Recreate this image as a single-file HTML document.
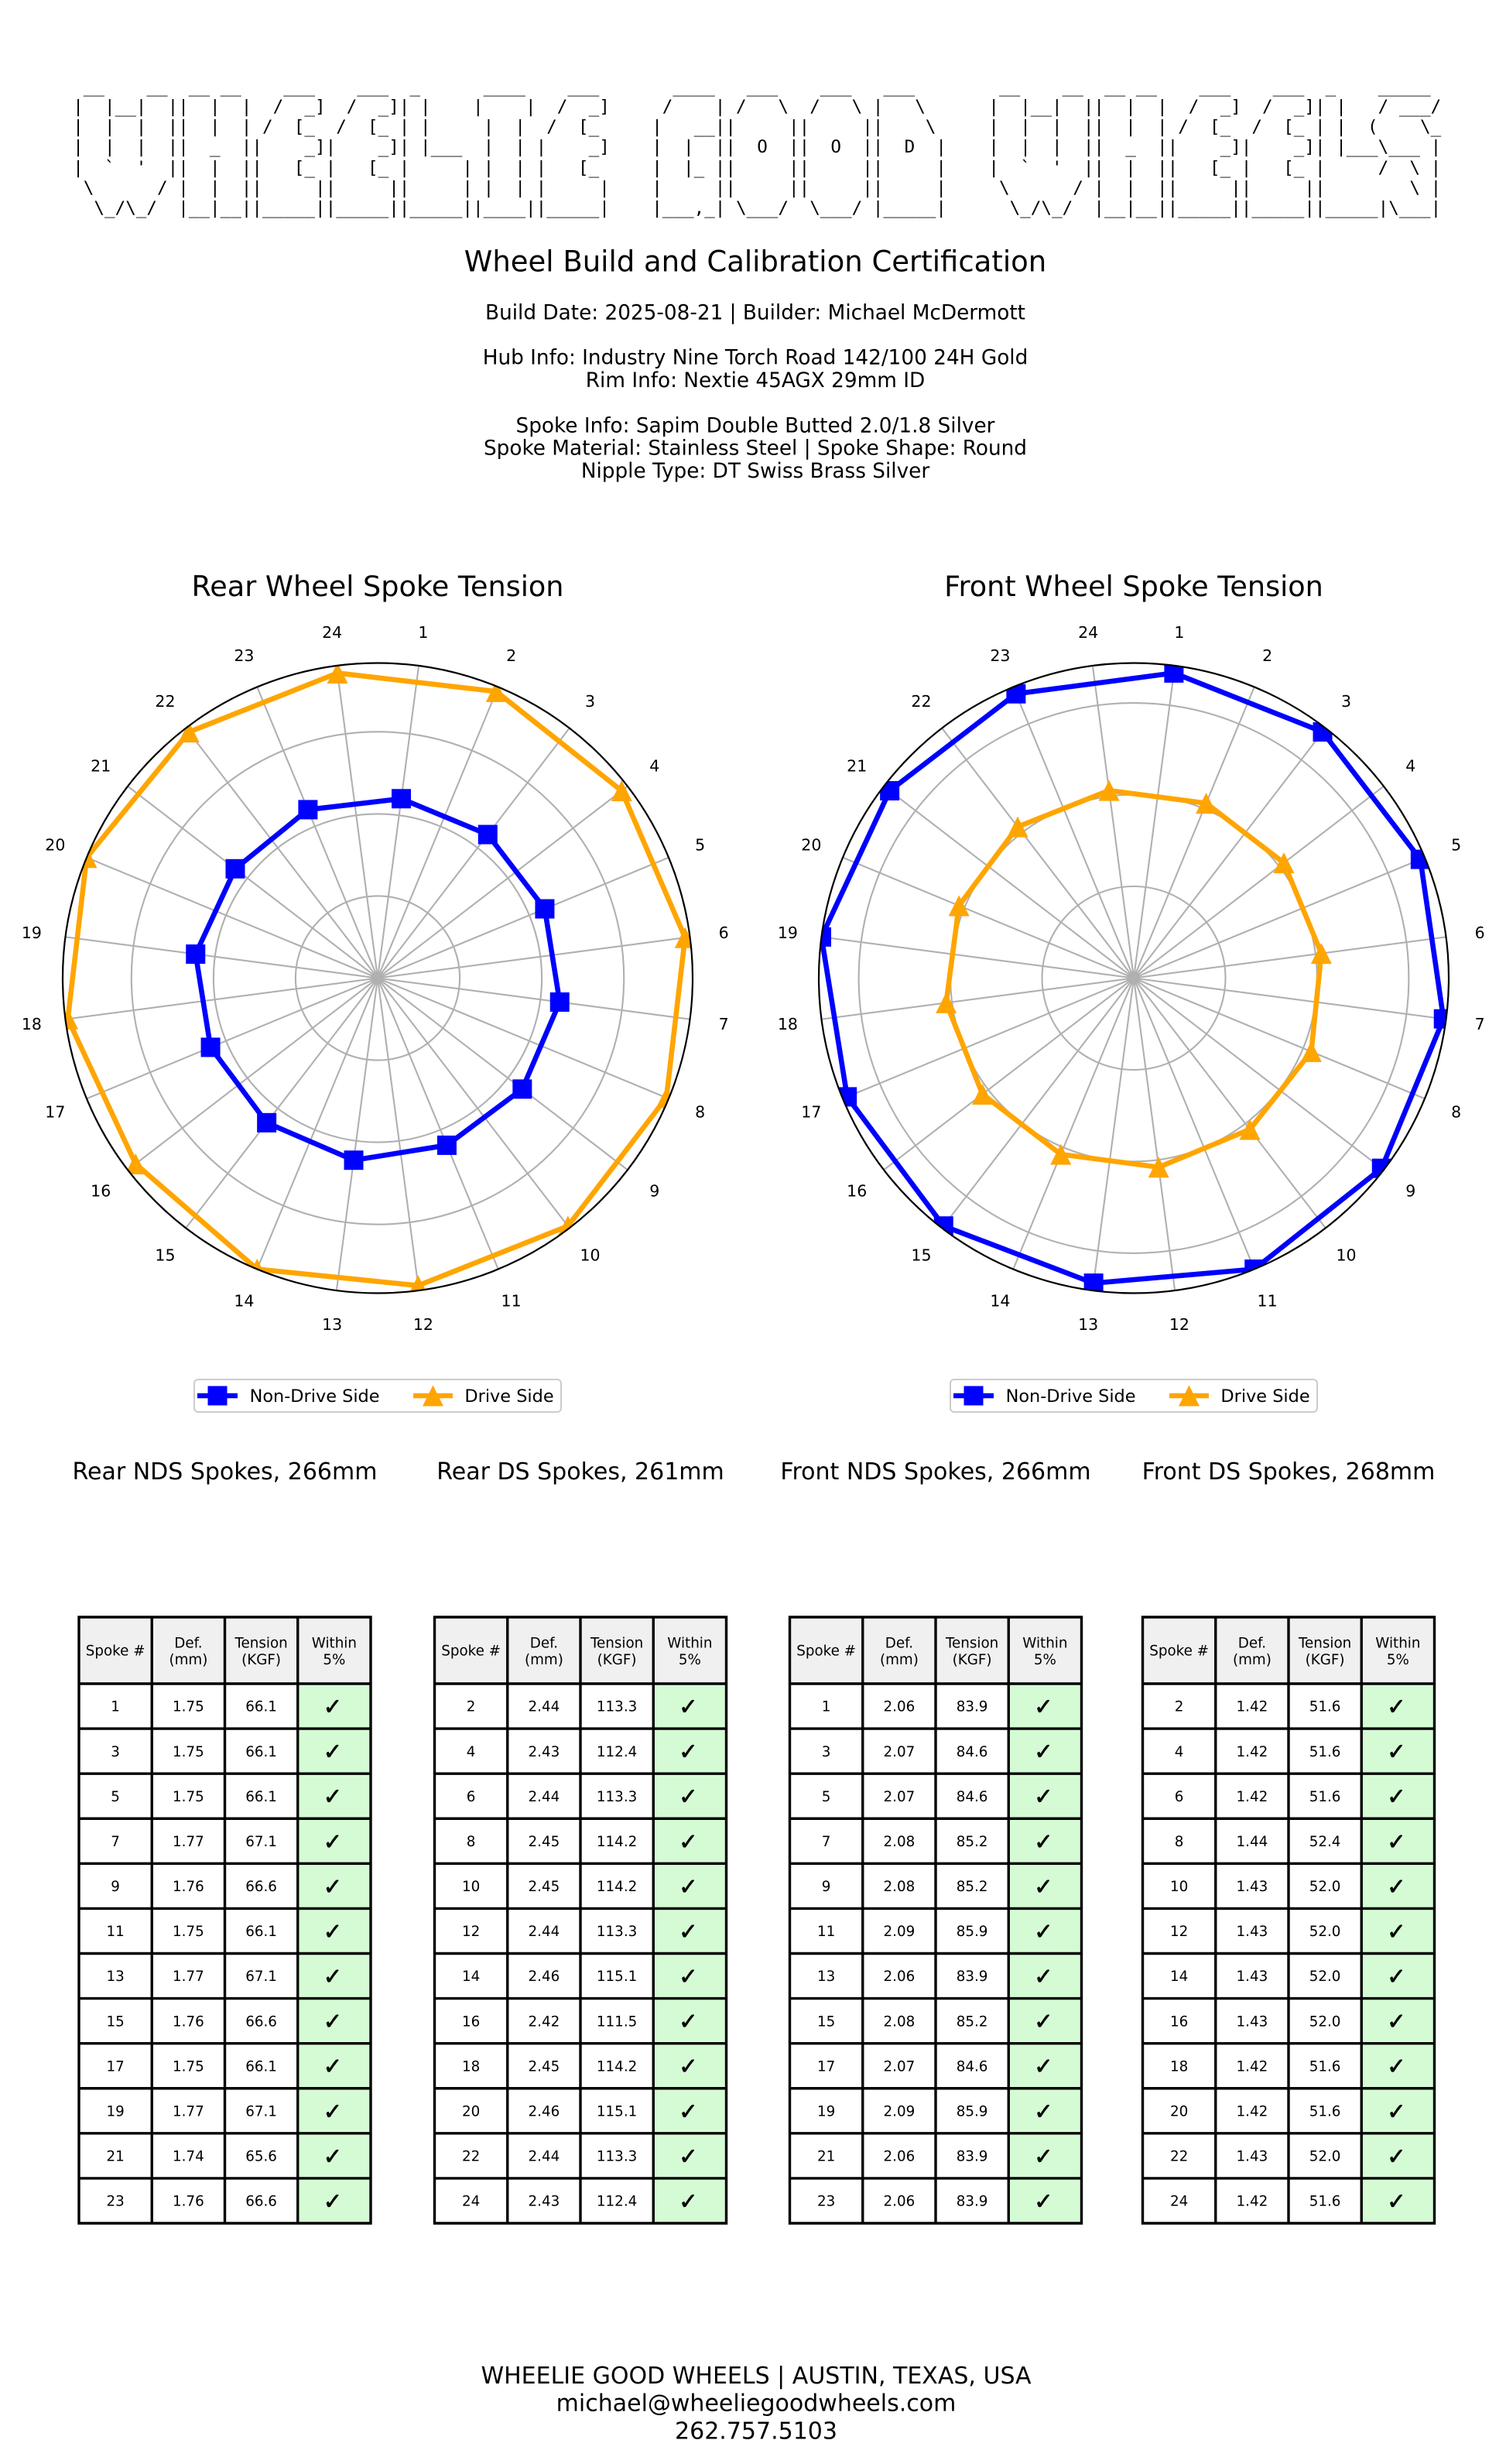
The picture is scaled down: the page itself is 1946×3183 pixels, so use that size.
<!DOCTYPE html>
<html><head><meta charset="utf-8"><style>
html,body{margin:0;padding:0;background:#fff;}
body{width:1946px;height:3183px;position:relative;overflow:hidden;}
svg{position:absolute;left:0;top:0;}
.a{position:absolute;top:98.5px;margin:0;font-family:"DejaVu Sans Mono","Liberation Mono",monospace;font-size:22.6px;line-height:26.3px;color:#000;white-space:pre;}
</style></head><body>
<svg width="1946" height="3183" viewBox="0 0 1946 3183" font-family="'DejaVu Sans','Liberation Sans',sans-serif">
<defs>
<path id="spk" d="M53.12 -403.52L-53.12 403.52M155.75 -376.02L-155.75 376.02M247.77 -322.9L-247.77 322.9M322.9 -247.77L-322.9 247.77M376.02 -155.75L-376.02 155.75M403.52 -53.12L-403.52 53.12M403.52 53.12L-403.52 -53.12M376.02 155.75L-376.02 -155.75M322.9 247.77L-322.9 -247.77M247.77 322.9L-247.77 -322.9M155.75 376.02L-155.75 -376.02M53.12 403.52L-53.12 -403.52"/>
<rect id="sq" x="-12.5" y="-12.5" width="25" height="25" fill="#0000ff"/>
<polygon id="tri" points="0,-13.5 -13.5,13.5 13.5,13.5" fill="#ffa500"/>
<clipPath id="cr"><circle cx="488" cy="1263.5" r="407"/></clipPath>
<clipPath id="cf"><circle cx="1465" cy="1263.5" r="407"/></clipPath>
<g id="tf">
<rect x="0" y="2089" width="377" height="86" fill="#f0f0f0"/>
<rect x="0" y="2175" width="282.75" height="697" fill="#ffffff"/>
<rect x="282.75" y="2175" width="94.25" height="697" fill="#d5fbd5"/>
<path fill="none" stroke="#000" stroke-width="3.4" stroke-linecap="square" d="M0 2089H377M0 2175H377M0 2233.08H377M0 2291.17H377M0 2349.25H377M0 2407.33H377M0 2465.42H377M0 2523.5H377M0 2581.58H377M0 2639.67H377M0 2697.75H377M0 2755.83H377M0 2813.92H377M0 2872H377M0 2089V2872M94.25 2089V2872M188.5 2089V2872M282.75 2089V2872M377 2089V2872"/>
</g>
</defs>

<!-- Header text -->
<g fill="#000" text-anchor="middle">
<text x="976" y="350.5" font-size="37">Wheel Build and Calibration Certification</text>
<g font-size="26.3">
<text x="976" y="412.5">Build Date: 2025-08-21 | Builder: Michael McDermott</text>
<text x="976" y="470.5">Hub Info: Industry Nine Torch Road 142/100 24H Gold</text>
<text x="976" y="500">Rim Info: Nextie 45AGX 29mm ID</text>
<text x="976" y="558.5">Spoke Info: Sapim Double Butted 2.0/1.8 Silver</text>
<text x="976" y="587.5">Spoke Material: Stainless Steel | Spoke Shape: Round</text>
<text x="976" y="617">Nipple Type: DT Swiss Brass Silver</text>
</g>
<text x="488" y="770" font-size="36.6">Rear Wheel Spoke Tension</text>
<text x="1465" y="770" font-size="36.6">Front Wheel Spoke Tension</text>
</g>

<!-- Rear chart -->
<g fill="none" stroke="#b0b0b0" stroke-width="2.1">
<circle cx="488" cy="1263.5" r="106.1"/>
<circle cx="488" cy="1263.5" r="212.1"/>
<circle cx="488" cy="1263.5" r="318.2"/>
<use href="#spk" x="488" y="1263.5"/>
</g>
<g clip-path="url(#cr)">
<path fill="none" stroke="#0000ff" stroke-width="6.6" stroke-linejoin="round" d="M518.51,1031.77 L630.29,1078.07 L703.94,1174.06 L723.24,1294.47 L674.83,1406.86 L577.44,1479.44 L457.03,1498.74 L344.64,1450.33 L272.06,1352.94 L252.76,1232.53 L303.97,1122.29 L397.88,1045.93 Z"/>
<use href="#sq" x="518.51" y="1031.77"/><use href="#sq" x="630.29" y="1078.07"/><use href="#sq" x="703.94" y="1174.06"/><use href="#sq" x="723.24" y="1294.47"/><use href="#sq" x="674.83" y="1406.86"/><use href="#sq" x="577.44" y="1479.44"/><use href="#sq" x="457.03" y="1498.74"/><use href="#sq" x="344.64" y="1450.33"/><use href="#sq" x="272.06" y="1352.94"/><use href="#sq" x="252.76" y="1232.53"/><use href="#sq" x="303.97" y="1122.29"/><use href="#sq" x="397.88" y="1045.93"/>
<path fill="none" stroke="#ffa500" stroke-width="6.6" stroke-linejoin="round" d="M641.32,893.36 L803.32,1021.55 L885.21,1211.21 L861.08,1418.03 L733.83,1583.87 L540.29,1660.71 L332.25,1639.52 L175.21,1503.52 L87.63,1316.21 L111.98,1107.75 L244.11,945.65 L436.12,869.45 Z"/>
<use href="#tri" x="641.32" y="893.36"/><use href="#tri" x="803.32" y="1021.55"/><use href="#tri" x="885.21" y="1211.21"/><use href="#tri" x="861.08" y="1418.03"/><use href="#tri" x="733.83" y="1583.87"/><use href="#tri" x="540.29" y="1660.71"/><use href="#tri" x="332.25" y="1639.52"/><use href="#tri" x="175.21" y="1503.52"/><use href="#tri" x="87.63" y="1316.21"/><use href="#tri" x="111.98" y="1107.75"/><use href="#tri" x="244.11" y="945.65"/><use href="#tri" x="436.12" y="869.45"/>
</g>
<circle cx="488" cy="1263.5" r="407" fill="none" stroke="#000" stroke-width="2.2"/>
<g font-size="20.5" text-anchor="middle" fill="#000" transform="translate(488 1263.5)">
<text x="58.87" y="-439.74">1</text><text x="172.59" y="-409.27">2</text><text x="274.55" y="-350.4">3</text><text x="357.8" y="-267.15">4</text><text x="416.67" y="-165.19">5</text><text x="447.14" y="-51.47">6</text><text x="447.14" y="66.27">7</text><text x="416.67" y="179.99">8</text><text x="357.8" y="281.95">9</text><text x="274.55" y="365.2">10</text><text x="172.59" y="424.07">11</text><text x="58.87" y="454.54">12</text><text x="-58.87" y="454.54">13</text><text x="-172.59" y="424.07">14</text><text x="-274.55" y="365.2">15</text><text x="-357.8" y="281.95">16</text><text x="-416.67" y="179.99">17</text><text x="-447.14" y="66.27">18</text><text x="-447.14" y="-51.47">19</text><text x="-416.67" y="-165.19">20</text><text x="-357.8" y="-267.15">21</text><text x="-274.55" y="-350.4">22</text><text x="-172.59" y="-409.27">23</text><text x="-58.87" y="-439.74">24</text>
</g>
<!-- Rear legend -->
<rect x="251" y="1782" width="474" height="42" rx="5" fill="#fff" stroke="#cccccc" stroke-width="2"/>
<line x1="255" y1="1803" x2="307" y2="1803" stroke="#0000ff" stroke-width="6.6"/>
<use href="#sq" x="281" y="1803"/>
<line x1="534" y1="1803" x2="585" y2="1803" stroke="#ffa500" stroke-width="6.6"/>
<use href="#tri" x="559.5" y="1803"/>
<g font-size="22.4" fill="#000">
<text x="322.6" y="1811">Non-Drive Side</text>
<text x="600.4" y="1811">Drive Side</text>
</g>

<!-- Front chart -->
<g fill="none" stroke="#b0b0b0" stroke-width="2.1">
<circle cx="1465" cy="1263.5" r="118.5"/>
<circle cx="1465" cy="1263.5" r="236.9"/>
<circle cx="1465" cy="1263.5" r="355.4"/>
<use href="#spk" x="1465" y="1263.5"/>
</g>
<g clip-path="url(#cf)">
<path fill="none" stroke="#0000ff" stroke-width="6.6" stroke-linejoin="round" d="M1516.89,869.38 L1709.02,945.49 L1835.33,1110.11 L1865.23,1316.19 L1785.26,1509.24 L1620.75,1639.52 L1413.11,1657.62 L1219.26,1583.76 L1094.67,1416.89 L1061.48,1210.38 L1149.63,1021.51 L1312.88,896.24 Z"/>
<use href="#sq" x="1516.89" y="869.38"/><use href="#sq" x="1709.02" y="945.49"/><use href="#sq" x="1835.33" y="1110.11"/><use href="#sq" x="1865.23" y="1316.19"/><use href="#sq" x="1785.26" y="1509.24"/><use href="#sq" x="1620.75" y="1639.52"/><use href="#sq" x="1413.11" y="1657.62"/><use href="#sq" x="1219.26" y="1583.76"/><use href="#sq" x="1094.67" y="1416.89"/><use href="#sq" x="1061.48" y="1210.38"/><use href="#sq" x="1149.63" y="1021.51"/><use href="#sq" x="1312.88" y="896.24"/>
<path fill="none" stroke="#ffa500" stroke-width="6.6" stroke-linejoin="round" d="M1558.56,1037.63 L1658.96,1114.67 L1707.39,1231.59 L1694.37,1358.51 L1614.99,1458.97 L1497.16,1507.77 L1370.71,1491.13 L1269.53,1413.49 L1222.61,1295.41 L1239.13,1169.94 L1315.01,1068.03 L1433.09,1021.11 Z"/>
<use href="#tri" x="1558.56" y="1037.63"/><use href="#tri" x="1658.96" y="1114.67"/><use href="#tri" x="1707.39" y="1231.59"/><use href="#tri" x="1694.37" y="1358.51"/><use href="#tri" x="1614.99" y="1458.97"/><use href="#tri" x="1497.16" y="1507.77"/><use href="#tri" x="1370.71" y="1491.13"/><use href="#tri" x="1269.53" y="1413.49"/><use href="#tri" x="1222.61" y="1295.41"/><use href="#tri" x="1239.13" y="1169.94"/><use href="#tri" x="1315.01" y="1068.03"/><use href="#tri" x="1433.09" y="1021.11"/>
</g>
<circle cx="1465" cy="1263.5" r="407" fill="none" stroke="#000" stroke-width="2.2"/>
<g font-size="20.5" text-anchor="middle" fill="#000" transform="translate(1465 1263.5)">
<text x="58.87" y="-439.74">1</text><text x="172.59" y="-409.27">2</text><text x="274.55" y="-350.4">3</text><text x="357.8" y="-267.15">4</text><text x="416.67" y="-165.19">5</text><text x="447.14" y="-51.47">6</text><text x="447.14" y="66.27">7</text><text x="416.67" y="179.99">8</text><text x="357.8" y="281.95">9</text><text x="274.55" y="365.2">10</text><text x="172.59" y="424.07">11</text><text x="58.87" y="454.54">12</text><text x="-58.87" y="454.54">13</text><text x="-172.59" y="424.07">14</text><text x="-274.55" y="365.2">15</text><text x="-357.8" y="281.95">16</text><text x="-416.67" y="179.99">17</text><text x="-447.14" y="66.27">18</text><text x="-447.14" y="-51.47">19</text><text x="-416.67" y="-165.19">20</text><text x="-357.8" y="-267.15">21</text><text x="-274.55" y="-350.4">22</text><text x="-172.59" y="-409.27">23</text><text x="-58.87" y="-439.74">24</text>
</g>
<!-- Front legend -->
<rect x="1228" y="1782" width="474" height="42" rx="5" fill="#fff" stroke="#cccccc" stroke-width="2"/>
<line x1="1232" y1="1803" x2="1284" y2="1803" stroke="#0000ff" stroke-width="6.6"/>
<use href="#sq" x="1258" y="1803"/>
<line x1="1511" y1="1803" x2="1562" y2="1803" stroke="#ffa500" stroke-width="6.6"/>
<use href="#tri" x="1536.5" y="1803"/>
<g font-size="22.4" fill="#000">
<text x="1299.6" y="1811">Non-Drive Side</text>
<text x="1577.4" y="1811">Drive Side</text>
</g>

<!-- Section headings -->
<g font-size="30" text-anchor="middle" fill="#000">
<text x="290.5" y="1911">Rear NDS Spokes, 266mm</text>
<text x="750" y="1911">Rear DS Spokes, 261mm</text>
<text x="1209" y="1911">Front NDS Spokes, 266mm</text>
<text x="1665" y="1911">Front DS Spokes, 268mm</text>
</g>

<!-- Tables -->
<use href="#tf" x="102"/>
<use href="#tf" x="561.5"/>
<use href="#tf" x="1020.5"/>
<use href="#tf" x="1476.5"/>

<g font-size="18.3" text-anchor="middle" fill="#000">
<!-- T1 -->
<g transform="translate(102 0)">
<text x="47.1" y="2138.7">Spoke #</text><text x="141.4" y="2128.4">Def.</text><text x="141.4" y="2150">(mm)</text><text x="235.6" y="2128.4">Tension</text><text x="235.6" y="2150">(KGF)</text><text x="329.9" y="2128.4">Within</text><text x="329.9" y="2150">5%</text>
<text x="47.1" y="2210.7">1</text><text x="141.4" y="2210.7">1.75</text><text x="235.6" y="2210.7">66.1</text>
<text x="47.1" y="2268.8">3</text><text x="141.4" y="2268.8">1.75</text><text x="235.6" y="2268.8">66.1</text>
<text x="47.1" y="2326.9">5</text><text x="141.4" y="2326.9">1.75</text><text x="235.6" y="2326.9">66.1</text>
<text x="47.1" y="2385">7</text><text x="141.4" y="2385">1.77</text><text x="235.6" y="2385">67.1</text>
<text x="47.1" y="2443.1">9</text><text x="141.4" y="2443.1">1.76</text><text x="235.6" y="2443.1">66.6</text>
<text x="47.1" y="2501.2">11</text><text x="141.4" y="2501.2">1.75</text><text x="235.6" y="2501.2">66.1</text>
<text x="47.1" y="2559.2">13</text><text x="141.4" y="2559.2">1.77</text><text x="235.6" y="2559.2">67.1</text>
<text x="47.1" y="2617.3">15</text><text x="141.4" y="2617.3">1.76</text><text x="235.6" y="2617.3">66.6</text>
<text x="47.1" y="2675.4">17</text><text x="141.4" y="2675.4">1.75</text><text x="235.6" y="2675.4">66.1</text>
<text x="47.1" y="2733.5">19</text><text x="141.4" y="2733.5">1.77</text><text x="235.6" y="2733.5">67.1</text>
<text x="47.1" y="2791.6">21</text><text x="141.4" y="2791.6">1.74</text><text x="235.6" y="2791.6">65.6</text>
<text x="47.1" y="2849.7">23</text><text x="141.4" y="2849.7">1.76</text><text x="235.6" y="2849.7">66.6</text>
</g>
<!-- T2 -->
<g transform="translate(561.5 0)">
<text x="47.1" y="2138.7">Spoke #</text><text x="141.4" y="2128.4">Def.</text><text x="141.4" y="2150">(mm)</text><text x="235.6" y="2128.4">Tension</text><text x="235.6" y="2150">(KGF)</text><text x="329.9" y="2128.4">Within</text><text x="329.9" y="2150">5%</text>
<text x="47.1" y="2210.7">2</text><text x="141.4" y="2210.7">2.44</text><text x="235.6" y="2210.7">113.3</text>
<text x="47.1" y="2268.8">4</text><text x="141.4" y="2268.8">2.43</text><text x="235.6" y="2268.8">112.4</text>
<text x="47.1" y="2326.9">6</text><text x="141.4" y="2326.9">2.44</text><text x="235.6" y="2326.9">113.3</text>
<text x="47.1" y="2385">8</text><text x="141.4" y="2385">2.45</text><text x="235.6" y="2385">114.2</text>
<text x="47.1" y="2443.1">10</text><text x="141.4" y="2443.1">2.45</text><text x="235.6" y="2443.1">114.2</text>
<text x="47.1" y="2501.2">12</text><text x="141.4" y="2501.2">2.44</text><text x="235.6" y="2501.2">113.3</text>
<text x="47.1" y="2559.2">14</text><text x="141.4" y="2559.2">2.46</text><text x="235.6" y="2559.2">115.1</text>
<text x="47.1" y="2617.3">16</text><text x="141.4" y="2617.3">2.42</text><text x="235.6" y="2617.3">111.5</text>
<text x="47.1" y="2675.4">18</text><text x="141.4" y="2675.4">2.45</text><text x="235.6" y="2675.4">114.2</text>
<text x="47.1" y="2733.5">20</text><text x="141.4" y="2733.5">2.46</text><text x="235.6" y="2733.5">115.1</text>
<text x="47.1" y="2791.6">22</text><text x="141.4" y="2791.6">2.44</text><text x="235.6" y="2791.6">113.3</text>
<text x="47.1" y="2849.7">24</text><text x="141.4" y="2849.7">2.43</text><text x="235.6" y="2849.7">112.4</text>
</g>
<!-- T3 -->
<g transform="translate(1020.5 0)">
<text x="47.1" y="2138.7">Spoke #</text><text x="141.4" y="2128.4">Def.</text><text x="141.4" y="2150">(mm)</text><text x="235.6" y="2128.4">Tension</text><text x="235.6" y="2150">(KGF)</text><text x="329.9" y="2128.4">Within</text><text x="329.9" y="2150">5%</text>
<text x="47.1" y="2210.7">1</text><text x="141.4" y="2210.7">2.06</text><text x="235.6" y="2210.7">83.9</text>
<text x="47.1" y="2268.8">3</text><text x="141.4" y="2268.8">2.07</text><text x="235.6" y="2268.8">84.6</text>
<text x="47.1" y="2326.9">5</text><text x="141.4" y="2326.9">2.07</text><text x="235.6" y="2326.9">84.6</text>
<text x="47.1" y="2385">7</text><text x="141.4" y="2385">2.08</text><text x="235.6" y="2385">85.2</text>
<text x="47.1" y="2443.1">9</text><text x="141.4" y="2443.1">2.08</text><text x="235.6" y="2443.1">85.2</text>
<text x="47.1" y="2501.2">11</text><text x="141.4" y="2501.2">2.09</text><text x="235.6" y="2501.2">85.9</text>
<text x="47.1" y="2559.2">13</text><text x="141.4" y="2559.2">2.06</text><text x="235.6" y="2559.2">83.9</text>
<text x="47.1" y="2617.3">15</text><text x="141.4" y="2617.3">2.08</text><text x="235.6" y="2617.3">85.2</text>
<text x="47.1" y="2675.4">17</text><text x="141.4" y="2675.4">2.07</text><text x="235.6" y="2675.4">84.6</text>
<text x="47.1" y="2733.5">19</text><text x="141.4" y="2733.5">2.09</text><text x="235.6" y="2733.5">85.9</text>
<text x="47.1" y="2791.6">21</text><text x="141.4" y="2791.6">2.06</text><text x="235.6" y="2791.6">83.9</text>
<text x="47.1" y="2849.7">23</text><text x="141.4" y="2849.7">2.06</text><text x="235.6" y="2849.7">83.9</text>
</g>
<!-- T4 -->
<g transform="translate(1476.5 0)">
<text x="47.1" y="2138.7">Spoke #</text><text x="141.4" y="2128.4">Def.</text><text x="141.4" y="2150">(mm)</text><text x="235.6" y="2128.4">Tension</text><text x="235.6" y="2150">(KGF)</text><text x="329.9" y="2128.4">Within</text><text x="329.9" y="2150">5%</text>
<text x="47.1" y="2210.7">2</text><text x="141.4" y="2210.7">1.42</text><text x="235.6" y="2210.7">51.6</text>
<text x="47.1" y="2268.8">4</text><text x="141.4" y="2268.8">1.42</text><text x="235.6" y="2268.8">51.6</text>
<text x="47.1" y="2326.9">6</text><text x="141.4" y="2326.9">1.42</text><text x="235.6" y="2326.9">51.6</text>
<text x="47.1" y="2385">8</text><text x="141.4" y="2385">1.44</text><text x="235.6" y="2385">52.4</text>
<text x="47.1" y="2443.1">10</text><text x="141.4" y="2443.1">1.43</text><text x="235.6" y="2443.1">52.0</text>
<text x="47.1" y="2501.2">12</text><text x="141.4" y="2501.2">1.43</text><text x="235.6" y="2501.2">52.0</text>
<text x="47.1" y="2559.2">14</text><text x="141.4" y="2559.2">1.43</text><text x="235.6" y="2559.2">52.0</text>
<text x="47.1" y="2617.3">16</text><text x="141.4" y="2617.3">1.43</text><text x="235.6" y="2617.3">52.0</text>
<text x="47.1" y="2675.4">18</text><text x="141.4" y="2675.4">1.42</text><text x="235.6" y="2675.4">51.6</text>
<text x="47.1" y="2733.5">20</text><text x="141.4" y="2733.5">1.42</text><text x="235.6" y="2733.5">51.6</text>
<text x="47.1" y="2791.6">22</text><text x="141.4" y="2791.6">1.43</text><text x="235.6" y="2791.6">52.0</text>
<text x="47.1" y="2849.7">24</text><text x="141.4" y="2849.7">1.42</text><text x="235.6" y="2849.7">51.6</text>
</g>
</g>

<!-- Check marks -->
<g font-family="'DejaVu Sans',sans-serif" font-size="29" font-weight="bold" text-anchor="middle" fill="#000" stroke="#000" stroke-width="0.8">
<g transform="translate(100 0)"><text x="329.9" y="2214.5">✓</text><text x="329.9" y="2272.6">✓</text><text x="329.9" y="2330.7">✓</text><text x="329.9" y="2388.8">✓</text><text x="329.9" y="2446.9">✓</text><text x="329.9" y="2505">✓</text><text x="329.9" y="2563">✓</text><text x="329.9" y="2621.1">✓</text><text x="329.9" y="2679.2">✓</text><text x="329.9" y="2737.3">✓</text><text x="329.9" y="2795.4">✓</text><text x="329.9" y="2853.5">✓</text></g>
<g transform="translate(559.5 0)"><text x="329.9" y="2214.5">✓</text><text x="329.9" y="2272.6">✓</text><text x="329.9" y="2330.7">✓</text><text x="329.9" y="2388.8">✓</text><text x="329.9" y="2446.9">✓</text><text x="329.9" y="2505">✓</text><text x="329.9" y="2563">✓</text><text x="329.9" y="2621.1">✓</text><text x="329.9" y="2679.2">✓</text><text x="329.9" y="2737.3">✓</text><text x="329.9" y="2795.4">✓</text><text x="329.9" y="2853.5">✓</text></g>
<g transform="translate(1018.5 0)"><text x="329.9" y="2214.5">✓</text><text x="329.9" y="2272.6">✓</text><text x="329.9" y="2330.7">✓</text><text x="329.9" y="2388.8">✓</text><text x="329.9" y="2446.9">✓</text><text x="329.9" y="2505">✓</text><text x="329.9" y="2563">✓</text><text x="329.9" y="2621.1">✓</text><text x="329.9" y="2679.2">✓</text><text x="329.9" y="2737.3">✓</text><text x="329.9" y="2795.4">✓</text><text x="329.9" y="2853.5">✓</text></g>
<g transform="translate(1474.5 0)"><text x="329.9" y="2214.5">✓</text><text x="329.9" y="2272.6">✓</text><text x="329.9" y="2330.7">✓</text><text x="329.9" y="2388.8">✓</text><text x="329.9" y="2446.9">✓</text><text x="329.9" y="2505">✓</text><text x="329.9" y="2563">✓</text><text x="329.9" y="2621.1">✓</text><text x="329.9" y="2679.2">✓</text><text x="329.9" y="2737.3">✓</text><text x="329.9" y="2795.4">✓</text><text x="329.9" y="2853.5">✓</text></g>
</g>

<!-- Footer -->
<g font-size="30" text-anchor="middle" fill="#000">
<text x="977" y="3079">WHEELIE GOOD WHEELS | AUSTIN, TEXAS, USA</text>
<text x="977" y="3114.7">michael@wheeliegoodwheels.com</text>
<text x="977" y="3150.4">262.757.5103</text>
</g>
</svg>

<!-- ASCII art header (crawford style), one block per glyph -->
<pre class="a" style="left:94.2px">
 __    __
|  |__|  |
|  |  |  |
|  |  |  |
|  `  '  |
 \      /
  \_/\_/</pre>
<pre class="a" style="left:230.2px">
 __ __
|  |  |
|  |  |
|  _  |
|  |  |
|  |  |
|__|__|</pre>
<pre class="a" style="left:325.4px">
   ___
  /  _]
 /  [_
|    _]
|   [_
|     |
|_____|</pre>
<pre class="a" style="left:420.6px">
   ___
  /  _]
 /  [_
|    _]
|   [_
|     |
|_____|</pre>
<pre class="a" style="left:515.8px">
 _
| |
| |
| |___
|     |
|     |
|_____|</pre>
<pre class="a" style="left:611px">
 ____
|    |
 |  |
 |  |
 |  |
 |  |
|____|</pre>
<pre class="a" style="left:692.6px">
   ___
  /  _]
 /  [_
|    _]
|   [_
|     |
|_____|</pre>
<pre class="a" style="left:842.2px">
  ____
 /    |
|   __|
|  |  |
|  |_ |
|     |
|___,_|</pre>
<pre class="a" style="left:937.4px">
  ___
 /   \
|     |
|  O  |
|     |
|     |
 \___/</pre>
<pre class="a" style="left:1032.6px">
  ___
 /   \
|     |
|  O  |
|     |
|     |
 \___/</pre>
<pre class="a" style="left:1127.8px">
 ___
|   \
|    \
|  D  |
|     |
|     |
|_____|</pre>
<pre class="a" style="left:1277.4px">
 __    __
|  |__|  |
|  |  |  |
|  |  |  |
|  `  '  |
 \      /
  \_/\_/</pre>
<pre class="a" style="left:1413.4px">
 __ __
|  |  |
|  |  |
|  _  |
|  |  |
|  |  |
|__|__|</pre>
<pre class="a" style="left:1508.6px">
   ___
  /  _]
 /  [_
|    _]
|   [_
|     |
|_____|</pre>
<pre class="a" style="left:1603.8px">
   ___
  /  _]
 /  [_
|    _]
|   [_
|     |
|_____|</pre>
<pre class="a" style="left:1699px">
 _    _____
| |   / ___/
| |  (    \_
| |___\___ |
|     /  \ |
|        \ |
|_____|\___|</pre>
</body></html>
